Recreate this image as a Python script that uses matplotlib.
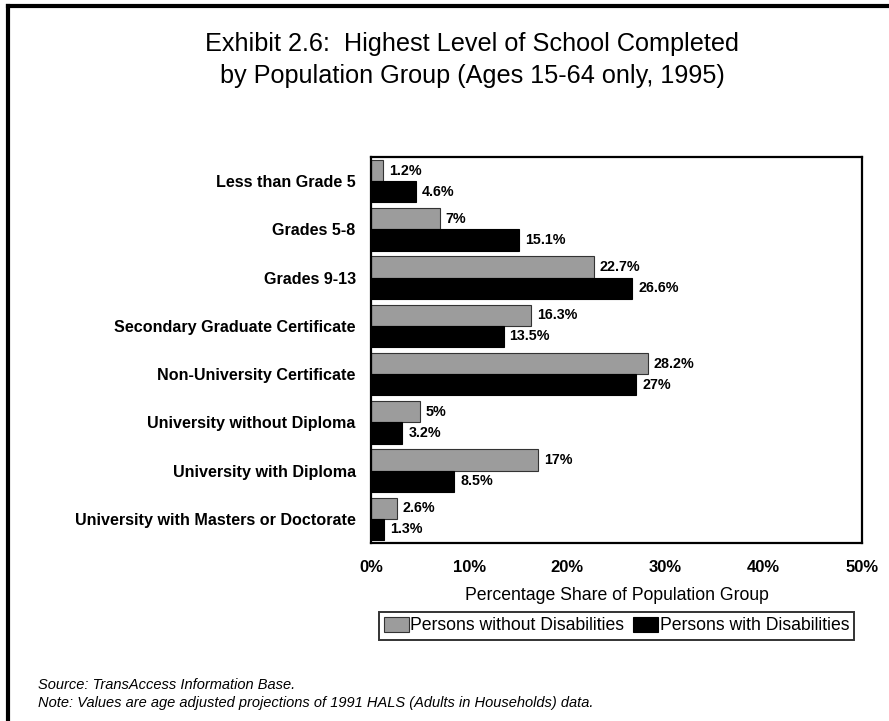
import numpy as np
import matplotlib
matplotlib.use('Agg')
import matplotlib.pyplot as plt
from matplotlib.lines import Line2D

plt.rcParams['font.family'] = ['Liberation Sans', 'DejaVu Sans']

# Dados
categorias = ['Less than Grade 5', 'Grades 5-8', 'Grades 9-13',
              'Secondary Graduate Certificate', 'Non-University Certificate',
              'University without Diploma', 'University with Diploma',
              'University with Masters or Doctorate']
sem_deficiencia = [1.2, 7, 22.7, 16.3, 28.2, 5, 17, 2.6]
com_deficiencia = [4.6, 15.1, 26.6, 13.5, 27, 3.2, 8.5, 1.3]
rotulos_sem = ['1.2%', '7%', '22.7%', '16.3%', '28.2%', '5%', '17%', '2.6%']
rotulos_com = ['4.6%', '15.1%', '26.6%', '13.5%', '27%', '3.2%', '8.5%', '1.3%']
xticks = [0, 10, 20, 30, 40, 50]

fig = plt.figure(figsize=(8.89, 7.21), dpi=100)
ax = fig.add_axes([371 / 889, 1 - 543 / 721, (862 - 371) / 889, (543 - 157) / 721])

y = np.arange(len(categorias))
h = 0.44
cinza = '#9c9c9c'
ax.barh(y - h / 2, sem_deficiencia, height=h, color=cinza, edgecolor='#333333',
        linewidth=0.8, label='Persons without Disabilities')
ax.barh(y + h / 2, com_deficiencia, height=h, color='black', edgecolor='black',
        linewidth=0.8, label='Persons with Disabilities')

for i in range(len(categorias)):
    ax.text(sem_deficiencia[i] + 0.6, y[i] - h / 2, rotulos_sem[i], va='center',
            ha='left', fontsize=10.3, fontweight='bold')
    ax.text(com_deficiencia[i] + 0.6, y[i] + h / 2, rotulos_com[i], va='center',
            ha='left', fontsize=10.3, fontweight='bold')

ax.set_ylim(len(categorias) - 0.5, -0.5)
ax.set_xlim(0, 50)
ax.set_yticks(y)
ax.set_yticklabels(categorias, fontsize=11.6, fontweight='bold')
ax.set_xticks(xticks)
ax.set_xticklabels([f'{t}%' for t in xticks], fontsize=12, fontweight='bold')
ax.tick_params(axis='both', length=0)
ax.tick_params(axis='y', pad=11)
ax.tick_params(axis='x', pad=12)
for s in ax.spines.values():
    s.set_linewidth(1.6)

ax.set_xlabel('Percentage Share of Population Group', fontsize=12.7, labelpad=9)

leg = ax.legend(loc='upper center', bbox_to_anchor=(0.5, -0.178), ncol=2,
                fontsize=12.7, frameon=True, fancybox=False, edgecolor='black',
                handlelength=1.4, handleheight=0.9, handletextpad=0.1,
                columnspacing=0.5, borderpad=0.3, borderaxespad=0)
leg.get_frame().set_linewidth(1.4)

# Título em duas linhas
fig.text(472 / 889, 1 - 44 / 721, 'Exhibit 2.6:  Highest Level of School Completed',
         ha='center', va='center', fontsize=18.2)
fig.text(472 / 889, 1 - 76 / 721, 'by Population Group (Ages 15-64 only, 1995)',
         ha='center', va='center', fontsize=18.2)

fig.text(38 / 889, 1 - 685 / 721, 'Source: TransAccess Information Base.',
         ha='left', va='center', fontsize=10.5, style='italic')
fig.text(38 / 889, 1 - 703 / 721,
         'Note: Values are age adjusted projections of 1991 HALS (Adults in Households) data.',
         ha='left', va='center', fontsize=10.5, style='italic')

# Moldura parcial (esquerda e topo)
fig.add_artist(Line2D([8 / 889, 8 / 889], [0, 1 - 6 / 721], color='black',
                      linewidth=3, transform=fig.transFigure))
fig.add_artist(Line2D([8 / 889, 1], [1 - 6 / 721, 1 - 6 / 721], color='black',
                      linewidth=3, transform=fig.transFigure))

fig.savefig('out.png', dpi=100)
